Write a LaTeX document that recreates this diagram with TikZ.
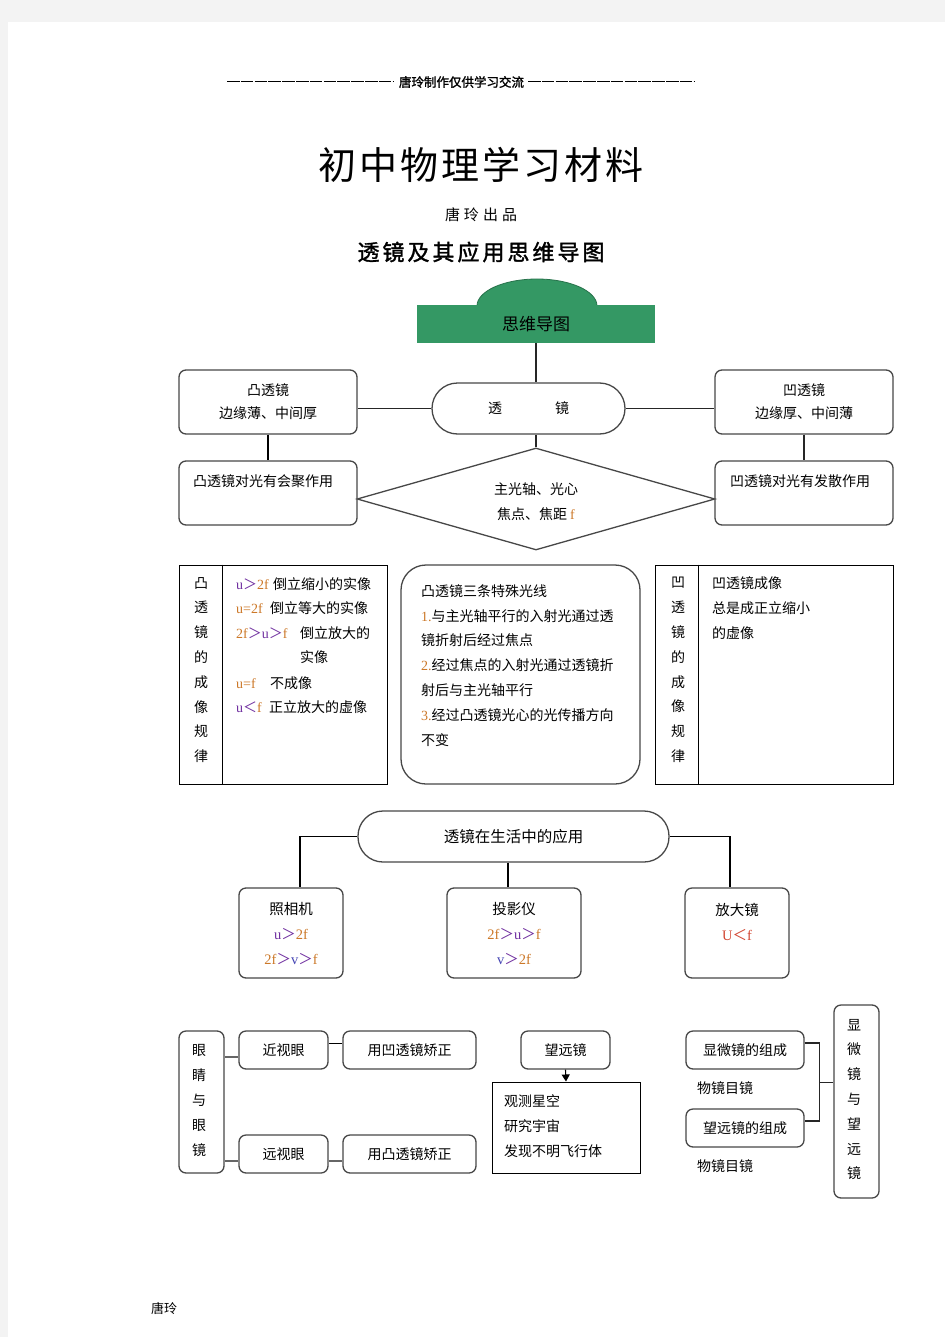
\documentclass[tikz,border=0pt]{standalone}
\usepackage{fontspec}
\setmainfont{Noto Sans CJK SC}
\newfontfamily\lat{Liberation Serif}
\newfontfamily\cjkb[FakeBold=1.6]{Noto Sans CJK SC}
\usetikzlibrary{shapes.geometric,arrows.meta}
\definecolor{pgray}{gray}{0.953}
\definecolor{mapgreen}{RGB}{52,152,100}
\definecolor{boxc}{gray}{0.28}
\definecolor{cpur}{RGB}{112,48,160}
\definecolor{corg}{RGB}{204,120,40}
\definecolor{cred}{RGB}{210,70,50}
\definecolor{cblu}{RGB}{70,70,180}
\newcommand\xpu[1]{\textcolor{cpur}{\lat #1}}
\newcommand\xog[1]{\textcolor{corg}{\lat #1}}
\newcommand\xbl[1]{\textcolor{cblu}{\lat #1}}
\newcommand\xrd[1]{\textcolor{cred}{\lat #1}}
\newcommand\sgap[1]{\hspace{#1}}
\tikzset{
  rbox/.style={draw=boxc, line width=1.3pt, rounded corners=7pt, fill=white},
  sbox/.style={draw=black, line width=1pt, fill=white},
  pill/.style={draw=boxc, line width=1.3pt, rounded corners=25pt, fill=white},
  conn/.style={draw=black!85, line width=1.1pt},
  connb/.style={draw=black, line width=1.9pt},
  vtxt/.style={align=center, font=\fontsize{14}{24.8}\selectfont},
  ltxt/.style={anchor=west, font=\fontsize{14}{17}\selectfont},
}
\begin{document}
\begin{tikzpicture}[x=1pt,y=-1pt, every node/.style={inner sep=0pt, font=\fontsize{14}{17}\selectfont}]
\useasboundingbox (0,0) rectangle (945,1337);
\fill[pgray] (0,0) rectangle (945,1337);
\fill[white] (8,22) rectangle (945,1337);

% header
\draw[line width=1pt, dash pattern=on 12.5pt off 1.3pt] (227,82) -- (393,82);
\draw[line width=1pt, dash pattern=on 12.5pt off 1.3pt] (528,82) -- (695,82);
\node (hdr) at (461.5,82) {\cjkb\fontsize{12.5}{14}\selectfont 唐玲制作仅供学习交流};
\node (title) at (481,165) {\fontsize{38}{40}\selectfont 初\sgap{3pt}中\sgap{3pt}物\sgap{3pt}理\sgap{3pt}学\sgap{3pt}习\sgap{3pt}材\sgap{3pt}料};
\node (sub) at (481,215) {\fontsize{15}{17}\selectfont 唐\sgap{4pt}玲\sgap{4pt}出\sgap{4pt}品};
\node (title2) at (481,252) {\cjkb\fontsize{22}{24}\selectfont 透\sgap{3pt}镜\sgap{3pt}及\sgap{3pt}其\sgap{3pt}应\sgap{3pt}用\sgap{3pt}思\sgap{3pt}维\sgap{3pt}导\sgap{3pt}图};

% green root
\fill[mapgreen] (477,306) arc[start angle=180, end angle=360, x radius=60, y radius=27] -- cycle;
\draw[mapgreen!75!black, line width=0.8pt] (477,306) arc[start angle=180, end angle=360, x radius=60, y radius=27];
\node[fill=mapgreen, minimum width=238, minimum height=38] (sw) at (536,324) {\fontsize{17}{19}\selectfont 思维导图};

% lens row
\node[pill, minimum width=193, minimum height=51, rounded corners=25.5pt] (tj) at (528.5,408.5) {透\sgap{53pt}镜};
\node[rbox, minimum width=178, minimum height=64, align=center, font=\fontsize{14}{23}\selectfont] (tu) at (268,402) {凸透镜\\边缘薄、中间厚};
\node[rbox, minimum width=178, minimum height=64, align=center, font=\fontsize{14}{23}\selectfont] (ao) at (804,402) {凹透镜\\边缘厚、中间薄};
\node[rbox, minimum width=178, minimum height=64] (hj) at (268,493) {};
\node[ltxt] (hjt) at (193,481) {凸透镜对光有会聚作用};
\node[rbox, minimum width=178, minimum height=64] (fs) at (804,493) {};
\node[ltxt] (fst) at (730,481) {凹透镜对光有发散作用};
\node[diamond, draw=boxc, line width=1.3pt, fill=white, shape aspect=3.51, minimum width=358, minimum height=102] (dia) at (536,499) {};
\node (dia1) at (536,489) {主光轴、光心};
\node (dia2) at (536,514) {焦点、焦距 \xog{f}};

\draw[conn] (sw.south) -- (sw.south |- tj.north);
\draw[conn] (tj.west) -- (tj.west -| tu.east);
\draw[conn] (tj.east) -- (tj.east -| ao.west);
\draw[connb] (tu.south) -- (hj.north);
\draw[conn] (ao.south) -- (fs.north);
\draw[conn] (dia.north) -- (dia.north |- tj.south);

% rules left
\node[sbox, minimum width=208, minimum height=219] (rl) at (283,674.5) {};
\draw[line width=1pt] ([xshift=44pt]rl.north west) -- ([xshift=44pt]rl.south west);
\node[vtxt] (rlv) at (201,670) {凸\\透\\镜\\的\\成\\像\\规\\律};
\node[ltxt] (ra1) at (236,584) {\makebox[37pt][l]{\xpu{u}\textcolor{cpur}{＞}\xog{2f}}倒立缩小的实像};
\node[ltxt] (ra2) at (236,608) {\makebox[34pt][l]{\xog{u=2f}}倒立等大的实像};
\node[ltxt] (ra3) at (236,633) {\makebox[64pt][l]{\xog{2f}\textcolor{cpur}{＞}\xpu{u}\textcolor{cpur}{＞}\xog{f}}倒立放大的};
\node[ltxt] (ra4) at (300,657) {实像};
\node[ltxt] (ra5) at (236,683) {\makebox[34pt][l]{\xog{u=f}}不成像};
\node[ltxt] (ra6) at (236,707) {\makebox[33pt][l]{\xpu{u}\textcolor{cpur}{＜}\xog{f}}正立放大的虚像};

% middle rays box
\node[draw=boxc, line width=1.3pt, rounded corners=25pt, minimum width=239, minimum height=219] (ms) at (520.5,674.5) {};
\node[ltxt] (m1) at (421,591) {凸透镜三条特殊光线};
\node[ltxt] (m2) at (421,616) {\xog{1.}与主光轴平行的入射光通过透};
\node[ltxt] (m3) at (421,640) {镜折射后经过焦点};
\node[ltxt] (m4) at (421,665) {\xog{2.}经过焦点的入射光通过透镜折};
\node[ltxt] (m5) at (421,690) {射后与主光轴平行};
\node[ltxt] (m6) at (421,715) {\xog{3.}经过凸透镜光心的光传播方向};
\node[ltxt] (m7) at (421,740) {不变};

% rules right
\node[sbox, minimum width=238, minimum height=219] (rr) at (774,674.5) {};
\draw[line width=1pt] ([xshift=44pt]rr.north west) -- ([xshift=44pt]rr.south west);
\node[vtxt] (rrv) at (678,670) {凹\\透\\镜\\的\\成\\像\\规\\律};
\node[ltxt] (rb1) at (712,583) {凹透镜成像};
\node[ltxt] (rb2) at (712,608) {总是成正立缩小};
\node[ltxt] (rb3) at (712,633) {的虚像};

% applications
\node[pill, minimum width=311, minimum height=51, font=\fontsize{15.5}{18}\selectfont] (app) at (513.5,836.5) {透镜在生活中的应用};
\node[rbox, minimum width=104, minimum height=90, align=center, font=\fontsize{14.5}{25}\selectfont] (cam) at (291,933) {照相机\\\xpu{u}\textcolor{cpur}{＞}\xog{2f}\\\xog{2f}\textcolor{cpur}{＞}\xbl{v}\textcolor{cpur}{＞}\xog{f}};
\node[rbox, minimum width=134, minimum height=90, align=center, font=\fontsize{14.5}{25}\selectfont] (proj) at (514,933) {投影仪\\\xog{2f}\textcolor{cpur}{＞}\xpu{u}\textcolor{cpur}{＞}\xog{f}\\\xbl{v}\textcolor{cpur}{＞}\xog{2f}};
\node[rbox, minimum width=104, minimum height=90] (mag) at (737,933) {};
\node (magt) at (737,910) {\fontsize{14.5}{17}\selectfont 放大镜};
\node (magu) at (737,935) {\fontsize{14.5}{17}\selectfont\xrd{U}\textcolor{cred}{＜}\xrd{f}};
\draw[connb, line width=1.5pt] (app.west) -| ([xshift=9pt]cam.north);
\draw[connb, line width=1.5pt] ([xshift=-5.5pt]app.south) -- ([xshift=-6pt]proj.north);
\draw[connb, line width=1.5pt] (app.east) -| ([xshift=-7pt]mag.north);

% eyes
\node[rbox, minimum width=45, minimum height=142] (eye) at (201.5,1102) {};
\node[vtxt, font=\fontsize{14}{25}\selectfont] (eyet) at (199,1100) {眼\\睛\\与\\眼\\镜};
\node[rbox, minimum width=89, minimum height=38] (near) at (283.5,1050) {近视眼};
\node[rbox, minimum width=133, minimum height=38] (nfix) at (409.5,1050) {用凹透镜矫正};
\node[rbox, minimum width=89, minimum height=38] (far) at (283.5,1154) {远视眼};
\node[rbox, minimum width=133, minimum height=38] (ffix) at (409.5,1154) {用凸透镜矫正};
\draw[conn, draw=black!60] ([yshift=-7pt]near.west) -- ([yshift=-7pt]near.west -| eye.east);
\draw[connb] ([yshift=6.5pt]near.east) -- ([yshift=6.5pt]nfix.west);
\draw[conn, draw=black!60] ([yshift=-7pt]far.west) -- ([yshift=-7pt]far.west -| eye.east);
\draw[conn, draw=black!60] ([yshift=-7pt]far.east) -- ([yshift=-7pt]ffix.west);

% telescope
\node[rbox, minimum width=89, minimum height=38] (tel) at (565.5,1050) {望远镜};
\node[sbox, minimum width=148, minimum height=91] (obs) at (566,1127.5) {};
\node[ltxt] (o1) at (504,1101) {观测星空};
\node[ltxt] (o2) at (504,1126) {研究宇宙};
\node[ltxt] (o3) at (504,1151) {发现不明飞行体};
\draw[line width=1.1pt, -{Triangle[length=7pt,width=8pt]}] (tel.south) -- (obs.north);

% microscope / telescope composition
\node[rbox, minimum width=118, minimum height=38] (mic) at (745,1050) {显微镜的组成};
\node[ltxt] (mict) at (697,1088) {物镜目镜};
\node[rbox, minimum width=118, minimum height=38] (telc) at (745,1128) {望远镜的组成};
\node[ltxt] (telct) at (697,1166) {物镜目镜};
\node[rbox, minimum width=45, minimum height=193] (mt) at (856.5,1101.5) {};
\node[vtxt] (mtt) at (854,1099.5) {显\\微\\镜\\与\\望\\远\\镜};
\draw[conn] ([yshift=7pt]mic.east) -- ++(15,0) |- ([yshift=7pt]telc.east);
\coordinate (jn) at (819,1082.5);
\draw[conn] (jn) -- (jn -| mt.west);

% footer
\node (foot) at (164,1308) {\fontsize{13}{15}\selectfont 唐玲};
\end{tikzpicture}
\end{document}
